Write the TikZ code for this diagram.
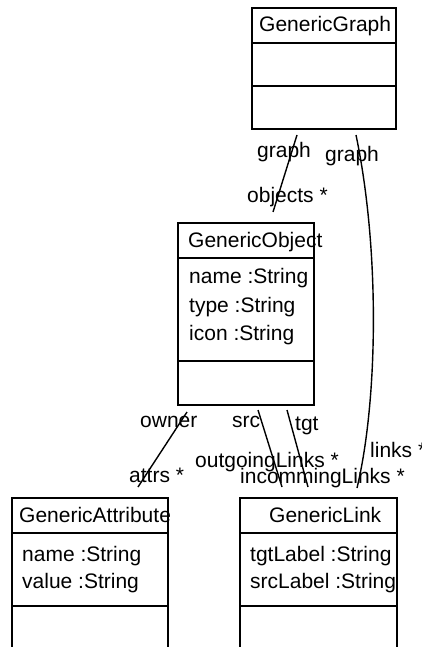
\documentclass[tikz,border=0pt]{standalone}
\usepackage{fontspec}
\setmainfont{Liberation Sans}
\usetikzlibrary{positioning}
\begin{document}
\begin{tikzpicture}[
    x=1pt, y=-1pt,
    classbox/.style={rectangle, draw=black, line width=1.7pt, anchor=north west, inner sep=0pt},
    divider/.style={line width=1.7pt},
    txt/.style={anchor=base west, inner sep=0pt, font=\fontsize{21}{25}\selectfont},
    assoc/.style={line width=1.4pt}
]
\useasboundingbox (0,0) rectangle (421,647);

% Classes
\node (graph) [classbox, minimum width=144pt, minimum height=121pt] at (251,7) {};
\node (object) [classbox, minimum width=136pt, minimum height=182pt] at (177,222) {};
\node (attribute) [classbox, minimum width=156pt, minimum height=180pt] at (11,497) {};
\node (link) [classbox, minimum width=157pt, minimum height=180pt] at (239,497) {};

% Compartments
\draw [divider] (graph.west |- 0,43) -- (graph.east |- 0,43);
\draw [divider] (graph.west |- 0,86) -- (graph.east |- 0,86);
\draw [divider] (object.west |- 0,258) -- (object.east |- 0,258);
\draw [divider] (object.west |- 0,361) -- (object.east |- 0,361);
\draw [divider] (attribute.west |- 0,533) -- (attribute.east |- 0,533);
\draw [divider] (attribute.west |- 0,606) -- (attribute.east |- 0,606);
\draw [divider] (link.west |- 0,533) -- (link.east |- 0,533);
\draw [divider] (link.west |- 0,606) -- (link.east |- 0,606);

% Names and attributes
\node (graphName) [txt] at (259,32) {GenericGraph};
\node (objectName) [txt] at (188,247) {GenericObject};
\node (objName) [txt] at (189,283) {name :String};
\node (objType) [txt] at (189,312) {type :String};
\node (objIcon) [txt] at (189,340) {icon :String};
\node (attributeName) [txt] at (19,522) {GenericAttribute};
\node (attrName) [txt] at (22,561) {name :String};
\node (attrValue) [txt] at (22,588) {value :String};
\node (linkName) [txt] at (269,522) {GenericLink};
\node (linkTgt) [txt] at (250,561) {tgtLabel :String};
\node (linkSrc) [txt] at (250,588) {srcLabel :String};

% Association ends
\coordinate (gObj) at (297,135);
\coordinate (oGraph) at (273,212);
\coordinate (gLink) at (356,135);
\coordinate (lGraph) at (357,488);
\coordinate (oAttr) at (187,412);
\coordinate (aOwner) at (138,487);
\coordinate (oOut) at (258,410);
\coordinate (lSrc) at (282,487);
\coordinate (oIn) at (287,410);
\coordinate (lTgt) at (308,487);

% Associations
\draw [assoc] (gObj) -- (oGraph);
\draw [assoc] (gLink) .. controls (380,250) and (378,400) .. (lGraph);
\draw [assoc] (oAttr) -- (aOwner);
\draw [assoc] (oOut) -- (lSrc);
\draw [assoc] (oIn) -- (lTgt);

% Role labels
\node (graphRole1) [txt] at (257,158) {graph};
\node (graphRole2) [txt] at (325,162) {graph};
\node (objectsRole) [txt] at (247,202) {objects *};
\node (ownerRole) [txt] at (140,427) {owner};
\node (srcRole) [txt] at (232,427) {src};
\node (tgtRole) [txt] at (295,430) {tgt};
\node (linksRole) [txt] at (370,457) {links *};
\node (outRole) [txt] at (195,467) {outgoingLinks *};
\node (inRole) [txt] at (240,483) {incommingLinks *};
\node (attrsRole) [txt] at (129,482) {attrs *};

\end{tikzpicture}
\end{document}
